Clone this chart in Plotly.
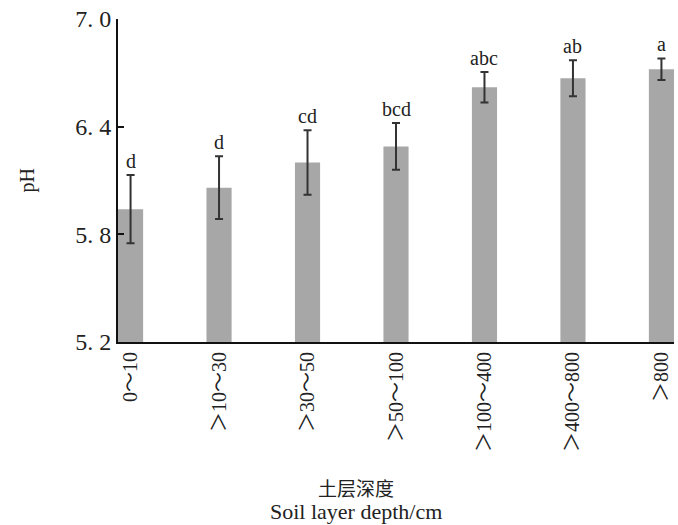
import plotly.graph_objects as go

categories = ["0～10", "＞10～30", "＞30～50", "＞50～100", "＞100～400", "＞400～800", "＞800"]
ph_mean = [5.94, 6.06, 6.20, 6.29, 6.62, 6.67, 6.72]
ph_err = [0.19, 0.175, 0.18, 0.13, 0.085, 0.10, 0.06]
sig_letters = ["d", "d", "cd", "bcd", "abc", "ab", "a"]
y_tickvals = [5.2, 5.8, 6.4, 7.0]
y_ticktext = ["5. 2", "5. 8", "6. 4", "7. 0"]

SERIF = "Liberation Serif, Noto Sans CJK SC, serif"

fig = go.Figure()
fig.add_trace(go.Bar(
    x=categories, y=ph_mean,
    marker=dict(color="#a7a7a7", line=dict(width=0)),
    error_y=dict(type="data", array=ph_err, visible=True, color="#333333", thickness=2, width=4),
))

for c, m, e, s in zip(categories, ph_mean, ph_err, sig_letters):
    fig.add_annotation(x=c, y=m + e, text=s, showarrow=False, yanchor="bottom",
                       yshift=1, font=dict(family=SERIF, size=20, color="#222222"))

fig.add_annotation(xref="paper", yref="paper", x=-0.162, y=0.5, text="pH", textangle=-90,
                   showarrow=False, xanchor="center", yanchor="middle",
                   font=dict(family=SERIF, size=20, color="#222222"))
fig.add_annotation(xref="paper", yref="paper", x=0.428, y=-0.452, text="土层深度",
                   showarrow=False, xanchor="center", yanchor="middle",
                   font=dict(family="Noto Sans CJK SC", size=19, color="#222222"))
fig.add_annotation(xref="paper", yref="paper", x=0.428, y=-0.525, text="Soil layer depth/cm",
                   showarrow=False, xanchor="center", yanchor="middle",
                   font=dict(family=SERIF, size=22, color="#222222"))

fig.update_layout(
    width=678, height=525,
    margin=dict(l=118, r=4, t=19, b=183),
    plot_bgcolor="white", paper_bgcolor="white",
    bargap=0.716, showlegend=False,
    xaxis=dict(range=[-0.142, 6.142], showline=True, linecolor="#111111", linewidth=2,
               ticks="", tickangle=-90, showgrid=False, automargin=False,
               tickfont=dict(family=SERIF, size=20, color="#222222")),
    yaxis=dict(range=[5.2, 7.0], tickvals=y_tickvals, ticktext=y_ticktext,
               showline=True, linecolor="#111111", linewidth=2, ticks="inside", ticklen=6,
               tickwidth=2, tickcolor="#111111", showgrid=False, zeroline=False, automargin=False,
               ticklabeloverflow="allow",
               tickfont=dict(family=SERIF, size=24, color="#222222")),
)

fig.write_html("out.html", config={"displayModeBar": False},
               post_script="document.body.style.margin='0';document.body.style.overflow='hidden';")
